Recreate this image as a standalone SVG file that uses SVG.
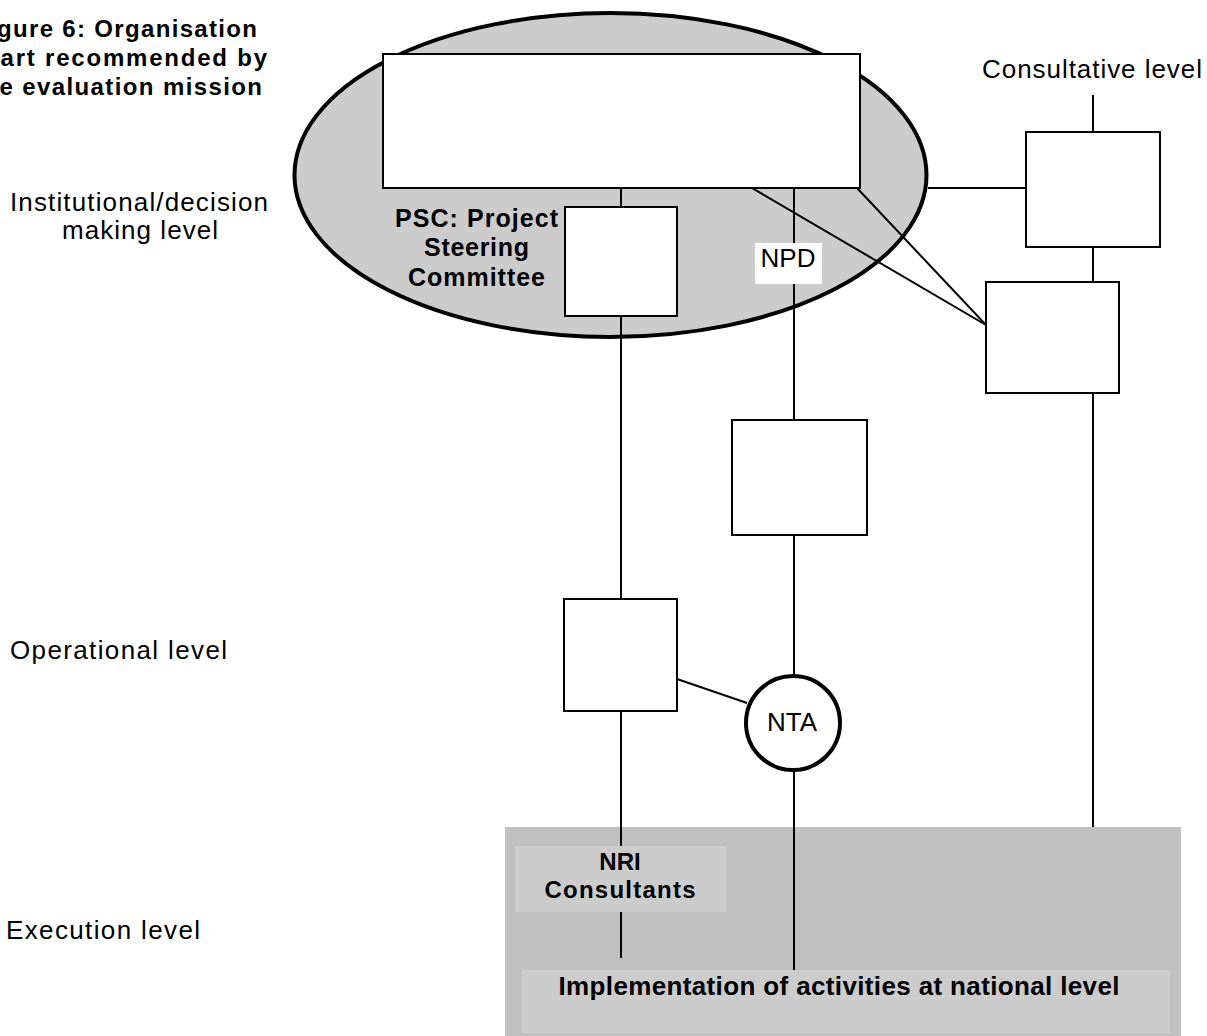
<svg xmlns="http://www.w3.org/2000/svg" width="1207" height="1036" viewBox="0 0 1207 1036">
<style>
text{font-family:"Liberation Sans",Arial,Helvetica,sans-serif;fill:#000}
.reg{font-size:26px}
.bold{font-weight:bold}
.box{fill:#fff;stroke:#000;stroke-width:2}
.conn line{stroke:#000;stroke-width:2}
.mid{text-anchor:middle}
</style>
<rect width="1207" height="1036" fill="#fff"/>
<g id="title">
<text class="bold" font-size="24" x="-27" y="37" textLength="284" lengthAdjust="spacing">Figure 6: Organisation</text>
<text class="bold" font-size="24" x="-31" y="66" textLength="298" lengthAdjust="spacing">chart recommended by</text>
<text class="bold" font-size="24" x="-26" y="95" textLength="288" lengthAdjust="spacing">the evaluation mission</text>
</g>
<g id="level-labels">
<text class="reg mid" x="139" y="211" textLength="258" lengthAdjust="spacing">Institutional/decision</text>
<text class="reg mid" x="140" y="239" textLength="156" lengthAdjust="spacing">making level</text>
<text class="reg" x="10" y="659" textLength="217" lengthAdjust="spacing">Operational level</text>
<text class="reg" x="6" y="939" textLength="194" lengthAdjust="spacing">Execution level</text>
<text class="reg" x="982" y="78" textLength="220" lengthAdjust="spacing">Consultative level</text>
</g>
<g id="psc-ellipse">
<ellipse cx="610.5" cy="175" rx="316" ry="162" fill="#cccccc" stroke="#000" stroke-width="4"/>
</g>
<g id="execution-area">
<rect x="505" y="827" width="676" height="209" fill="#c0c0c0"/>
</g>
<g class="conn" id="connectors">
<line x1="621" y1="188" x2="621" y2="207"/>
<line x1="621" y1="316" x2="621" y2="599"/>
<line x1="621" y1="711" x2="621" y2="846"/>
<line x1="621" y1="912" x2="621" y2="958"/>
<line x1="794" y1="188" x2="794" y2="420"/>
<line x1="794" y1="535" x2="794" y2="676"/>
<line x1="794" y1="770" x2="794" y2="970"/>
<line x1="1093" y1="95" x2="1093" y2="132"/>
<line x1="1093" y1="247" x2="1093" y2="282"/>
<line x1="1093" y1="393" x2="1093" y2="827"/>
<line x1="928" y1="188" x2="1026" y2="188"/>
<line x1="752" y1="188" x2="986" y2="325"/>
<line x1="857" y1="188" x2="986" y2="325"/>
<line x1="677" y1="679" x2="747" y2="703"/>
</g>
<g id="top-box">
<rect class="box" x="383" y="54" width="477" height="134"/>
</g>
<g id="psc">
<rect class="box" x="565" y="207" width="112" height="109"/>
<text class="bold mid" font-size="25" x="476.5" y="227" textLength="163" lengthAdjust="spacing">PSC: Project</text>
<text class="bold mid" font-size="25" x="476.5" y="256" textLength="105" lengthAdjust="spacing">Steering</text>
<text class="bold mid" font-size="25" x="476.5" y="286" textLength="137" lengthAdjust="spacing">Committee</text>
</g>
<g id="consultative-box">
<rect class="box" x="1026" y="132" width="134" height="115"/>
</g>
<g id="right-box">
<rect class="box" x="986" y="282" width="133" height="111"/>
</g>
<g id="npd">
<rect x="755" y="243" width="67" height="41" fill="#fff"/>
<text class="reg mid" x="788" y="267">NPD</text>
</g>
<g id="middle-box">
<rect class="box" x="732" y="420" width="135" height="115"/>
</g>
<g id="operational-box">
<rect class="box" x="564" y="599" width="113" height="112"/>
</g>
<g id="nta">
<circle cx="793" cy="723" r="47" fill="#fff" stroke="#000" stroke-width="4"/>
<text class="reg mid" x="792" y="731">NTA</text>
</g>
<g id="nri">
<rect x="515" y="846" width="211" height="66" fill="#cccccc"/>
<text class="bold mid" font-size="24" x="620" y="870">NRI</text>
<text class="bold mid" font-size="24" x="620" y="898" textLength="151" lengthAdjust="spacing">Consultants</text>
</g>
<g id="implementation">
<rect x="522" y="970" width="648" height="63" fill="#cccccc"/>
<text class="bold mid" font-size="26" x="839" y="995" textLength="561" lengthAdjust="spacing">Implementation of activities at national level</text>
</g>
</svg>
